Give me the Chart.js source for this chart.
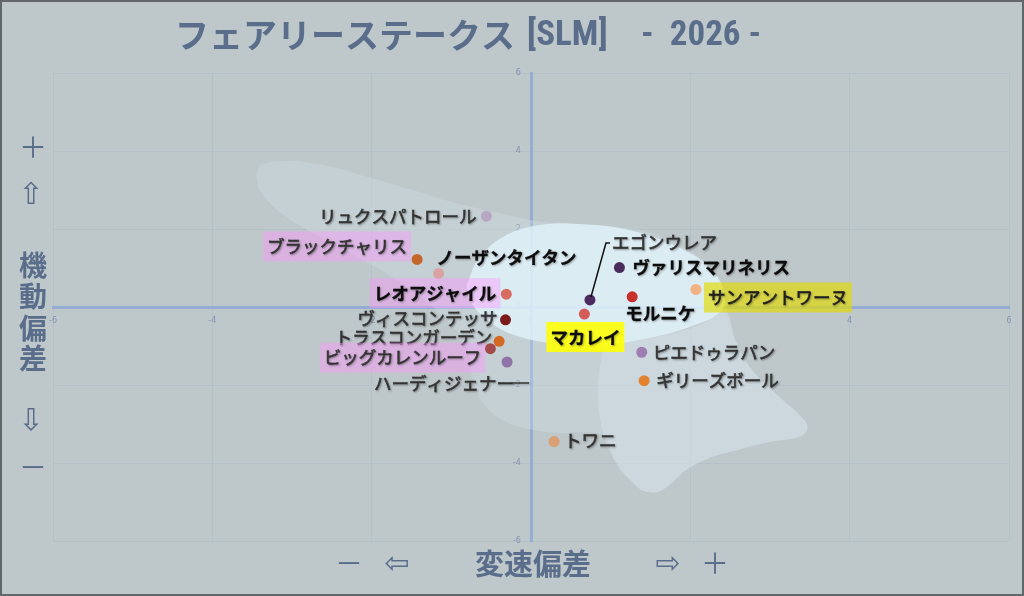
<!DOCTYPE html>
<html><head><meta charset="utf-8">
<script src="https://cdn.jsdelivr.net/npm/chart.js@4.4.1/dist/chart.umd.min.js"></script>
<style>html,body{margin:0;padding:0;background:#bec7ca;}canvas{display:block;}</style>
</head><body>
<canvas id="c" width="1024" height="596"></canvas>
<script>
// ---- data ----
const horseNames = ['リュクスパトロール','ブラックチャリス','ノーザンタイタン','レオアジャイル','ヴィスコンテッサ','トラスコンガーデン','ビッグカレンルーフ','ハーディジェナー','エゴンウレア','ヴァリスマリネリス','モルニケ','サンアントワーヌ','マカレイ','ピエドゥラパン','ギリーズボール','トワニ'];
const speedDeviation    = [-0.56,-1.43,-1.16,-0.31,-0.32,-0.40,-0.51,-0.30, 0.74, 1.11, 1.27, 2.07, 0.67, 1.39, 1.42, 0.29];
const mobilityDeviation = [ 2.33, 1.22, 0.86, 0.33,-0.33,-0.88,-1.07,-1.41, 0.18, 1.01, 0.26, 0.45,-0.18,-1.16,-1.89,-3.45];
const pointColors = ['#b8a6c5','#c4672a','#d9a3a3','#d86b62','#7b1c1c','#d36a22','#a44a4a','#8f72a8','#4b2b5e','#4a2d5d','#c9302c','#f2b282','#d35b5a','#9d7db2','#e3812f','#d9a073'];
const axisTicks = [-6,-4,-2,0,2,4,6];

// density contours
const outerContourX = [-3.45,-3.39,-3.16,-2.74,-2.12,-1.49,-0.86,-0.23,0.17,0.86,1.50,2.12,2.39,2.47,2.58,2.78,3.12,3.41,3.47,3.37,3.00,2.58,2.24,1.95,1.65,1.45,1.28,1.07,0.92,0.73,0.36,0.02,-0.31,-0.56,-0.71,-0.81,-1.10,-1.63,-2.34,-3.07,-3.39];
const outerContourY = [3.38,3.64,3.74,3.69,3.38,3.00,2.62,2.33,2.18,2.08,1.90,1.26,0.56,-0.21,-0.92,-1.62,-2.31,-2.85,-3.10,-3.33,-3.46,-3.67,-3.87,-4.18,-4.69,-4.74,-4.51,-4.00,-3.33,-3.21,-3.23,-3.15,-2.95,-2.56,-2.00,-1.03,-0.26,0.62,1.46,2.31,2.95];
const lobeContourX = [0.92,0.86,0.84,0.92,1.07,1.28,1.45,1.65,1.95,2.24,2.58,3.00,3.37,3.47,3.41,3.12,2.78,2.58,2.43,2.12,1.49];
const lobeContourY = [-0.92,-1.62,-2.38,-3.33,-4.00,-4.51,-4.74,-4.69,-4.18,-3.87,-3.67,-3.46,-3.33,-3.10,-2.85,-2.31,-1.62,-0.92,-0.08,-0.46,-0.79];
const innerContourX = [-0.81,-0.65,-0.33,0.11,0.61,1.24,1.87,2.27,2.43,2.37,1.99,1.49,0.92,0.36,-0.21,-0.58,-0.77];
const innerContourY = [0.56,1.26,1.82,2.10,2.13,1.97,1.51,0.95,0.31,-0.13,-0.51,-0.79,-0.97,-0.95,-0.72,-0.28,0.18];

const titleKana = 'フェアリーステークス';
const titleCode = '[SLM]';
const titleYear = '-  2026 -';
const xAxisTitle = '変速偏差';
const yAxisTitle = ['機','動','偏','差'];

// ---- label placement / style (pixels relative to the point) ----
const PINK = 'rgba(255,150,255,0.42)';
const labelStyles = {
  'リュクスパトロール': {dx:-10, dy:0,  align:'right'},
  'ブラックチャリス':   {dx:-10, dy:-13,align:'right', bg:PINK},
  'ノーザンタイタン':   {dx:-2,  dy:-16,align:'left', bold:true},
  'レオアジャイル':     {dx:-10, dy:-1, align:'right', bold:true, bg:PINK},
  'ヴィスコンテッサ':   {dx:-8,  dy:-2, align:'right'},
  'トラスコンガーデン': {dx:-7,  dy:-4, align:'right'},
  'ビッグカレンルーフ': {dx:-9,  dy:9,  align:'right', bg:PINK},
  'ハーディジェナー':   {dx:7,   dy:21, align:'right', tail:15},
  'エゴンウレア':       {dx:22,  dy:-58,align:'left', leader:[[1,-3],[16,-57],[20,-57]]},
  'ヴァリスマリネリス': {dx:13,  dy:0,  align:'left', bold:true},
  'モルニケ':           {dx:-7,  dy:16, align:'left', bold:true},
  'サンアントワーヌ':   {dx:12,  dy:8,  align:'left', bg:'rgba(226,218,0,0.66)', dark:true},
  'マカレイ':           {dx:-34, dy:23, align:'left', bold:true, bg:'rgba(255,255,0,0.88)'},
  'ピエドゥラパン':     {dx:11,  dy:0,  align:'left'},
  'ギリーズボール':     {dx:12,  dy:0,  align:'left'},
  'トワニ':             {dx:10,  dy:-1, align:'left'}
};

function closedPath(xs, ys){
  const pts = xs.map((x,i)=>({x:x, y:ys[i]}));
  pts.push({x:xs[0], y:ys[0]});
  return pts;
}

const FONT = '"Noto Sans CJK JP", "Noto Sans", sans-serif';
const NARROW = '"Liberation Sans Narrow", "Roboto Condensed", "Noto Sans CJK JP", sans-serif';
const SLATE = '#5a6e8c';

const framePlugin = {
  id:'frame',
  beforeDraw(chart){
    const ctx = chart.ctx;
    ctx.save();
    ctx.fillStyle = '#bec7ca';
    ctx.fillRect(0,0,chart.width,chart.height);
    ctx.restore();
  },
  afterDraw(chart){
    const ctx = chart.ctx;
    ctx.save();
    ctx.fillStyle = SLATE;
    ctx.textBaseline = 'middle';
    ctx.textAlign = 'left';
    ctx.font = 'bold 34px ' + FONT;
    ctx.fillText(titleKana, 175, 35);
    ctx.font = 'bold 35px ' + NARROW;
    ctx.fillText(titleCode, 527, 36);
    ctx.fillText(titleYear, 641, 36);
    // y axis title
    ctx.textAlign = 'center';
    ctx.font = '28px ' + FONT;
    ctx.fillText('＋', 33, 147);
    ctx.font = '30px "DejaVu Sans", ' + FONT;
    ctx.fillText('⇧', 31, 196);
    ctx.fillText('⇩', 31, 422);
    ctx.font = 'bold 28px ' + FONT;
    const ys = [265, 296, 328, 358];
    yAxisTitle.forEach((c,i)=>ctx.fillText(c, 33, ys[i]));
    ctx.font = '28px ' + FONT;
    ctx.fillText('－', 33, 467);
    // x axis title
    ctx.font = 'bold 29px ' + FONT;
    ctx.fillText(xAxisTitle, 533, 564);
    ctx.font = '28px ' + FONT;
    ctx.fillText('－', 349, 563);
    ctx.fillText('＋', 715, 563);
    ctx.font = '30px "DejaVu Sans", ' + FONT;
    ctx.fillText('⇦', 397, 565);
    ctx.fillText('⇨', 668, 565);
    // frame border
    ctx.strokeStyle = '#62676b';
    ctx.lineWidth = 2;
    ctx.strokeRect(1,1,chart.width-2,chart.height-2);
    ctx.restore();
  }
};

const labelPlugin = {
  id:'labels',
  afterDatasetsDraw(chart){
    const ctx = chart.ctx;
    const meta = chart.getDatasetMeta(0);
    ctx.save();
    ctx.textBaseline = 'middle';
    meta.data.forEach((el,i)=>{
      const name = horseNames[i];
      const st = labelStyles[name] || {dx:10,dy:0,align:'left'};
      const px = el.x, py = el.y;
      ctx.font = (st.bold ? 'bold ' : '') + '17.5px ' + FONT;
      const w = ctx.measureText(name).width;
      const tx = px + st.dx, ty = py + st.dy;
      const left = st.align === 'right' ? tx - w : tx;
      ctx.shadowColor = 'rgba(0,0,0,0)';
      if (st.bg){
        ctx.fillStyle = st.bg;
        ctx.fillRect(left-4, ty-15, w+8, 30);
      }
      if (st.leader){
        ctx.strokeStyle = '#111';
        ctx.lineWidth = 1.5;
        ctx.beginPath();
        st.leader.forEach((p,k)=>{ if(k===0) ctx.moveTo(px+p[0],py+p[1]); else ctx.lineTo(px+p[0],py+p[1]); });
        ctx.stroke();
      }
      const col = st.bold ? '#0c0c0c' : (st.dark ? '#1e1e1e' : '#353535');
      ctx.fillStyle = col;
      ctx.strokeStyle = col;
      ctx.lineWidth = st.bold ? 0.3 : 0.6;
      ctx.shadowColor = 'rgba(40,40,40,0.35)';
      ctx.shadowBlur = 2;
      ctx.shadowOffsetX = 1;
      ctx.shadowOffsetY = 1;
      ctx.textAlign = 'left';
      ctx.fillText(name, left, ty);
      ctx.strokeText(name, left, ty);
      if (st.tail){
        ctx.lineWidth = 1.5;
        ctx.beginPath();
        ctx.moveTo(left + w - 2, ty);
        ctx.lineTo(left + w + st.tail, ty);
        ctx.stroke();
      }
    });
    ctx.restore();
  }
};

const tickFont = {size:8, family:'"DejaVu Sans", sans-serif'};
const xTickStyle = {color:'#8394ae', font:tickFont, stepSize:2, autoSkip:false, padding:2};
const yTickStyle = {color:'#8394ae', font:tickFont, stepSize:2, autoSkip:false, padding:2,
                    callback: v => v + '    '};
const gridStyle = {color:'rgba(165,182,200,0.35)', lineWidth:1, drawTicks:true, tickLength:7, tickColor:'rgba(0,0,0,0)'};

new Chart(document.getElementById('c'), {
  type:'scatter',
  data:{ datasets:[
    { label:'points',
      data: horseNames.map((n,i)=>({x:speedDeviation[i], y:mobilityDeviation[i]})),
      backgroundColor: pointColors, borderColor: pointColors, borderWidth:0,
      pointRadius:5.5, pointHoverRadius:5.5, order:0 },
    { label:'inner', data: closedPath(innerContourX, innerContourY), showLine:true, fill:'shape', tension:0.4,
      pointRadius:0, borderWidth:0, borderColor:'rgba(0,0,0,0)', backgroundColor:'rgba(224,242,250,0.82)', order:1 },
    { label:'lobe', data: closedPath(lobeContourX, lobeContourY), showLine:true, fill:'shape', tension:0.4,
      pointRadius:0, borderWidth:0, borderColor:'rgba(0,0,0,0)', backgroundColor:'rgba(222,238,246,0.28)', order:2 },
    { label:'outer', data: closedPath(outerContourX, outerContourY), showLine:true, fill:'shape', tension:0.4,
      pointRadius:0, borderWidth:0, borderColor:'rgba(0,0,0,0)', backgroundColor:'rgba(218,234,242,0.26)', order:3 }
  ]},
  options:{
    responsive:false, animation:false, devicePixelRatio:1,
    layout:{padding:{left:53, right:15, top:73, bottom:55}},
    plugins:{legend:{display:false}, tooltip:{enabled:false}},
    scales:{
      x:{type:'linear', min:-6, max:6, position:{y:0},
         afterBuildTicks(s){ s.ticks = axisTicks.map(v=>({value:v})); },
         ticks: xTickStyle, grid: gridStyle,
         border:{display:true, color:'rgba(146,172,212,0.95)', width:3}},
      y:{type:'linear', min:-6, max:6, position:{x:0},
         afterBuildTicks(s){ s.ticks = axisTicks.map(v=>({value:v})); },
         ticks: yTickStyle, grid: gridStyle,
         border:{display:true, color:'rgba(146,172,212,0.95)', width:3}}
    }
  },
  plugins:[framePlugin, labelPlugin]
});
</script>
</body></html>
